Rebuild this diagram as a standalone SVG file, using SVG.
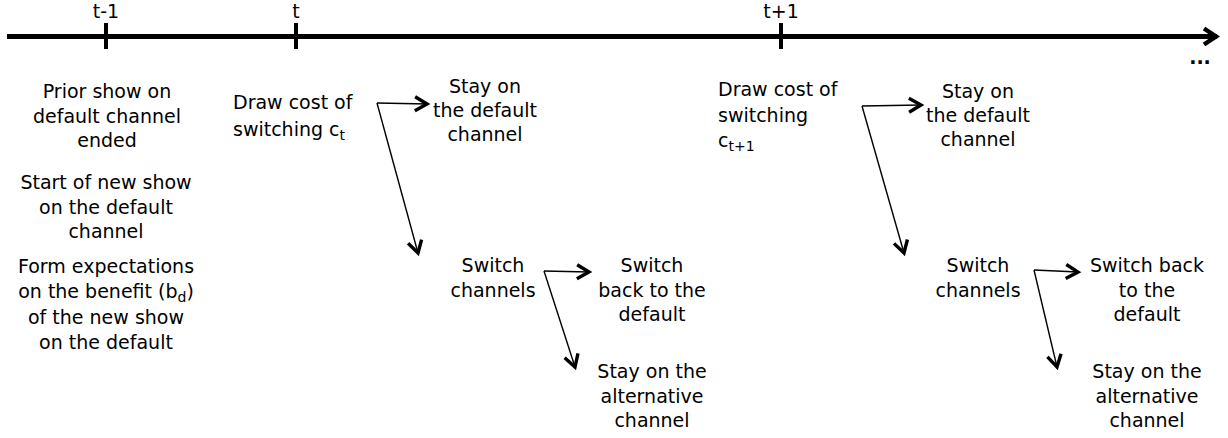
<svg xmlns="http://www.w3.org/2000/svg" width="1228" height="438" viewBox="0 0 1228 438">
<style>
text{font-family:"DejaVu Sans","Verdana",sans-serif;font-size:19px;fill:#000}
.c{text-anchor:middle}
.s{font-size:14px}
.conn{stroke:#000;stroke-width:1.4;fill:none;marker-end:url(#ah)}
.tick{stroke:#000;stroke-width:4}
</style>
<defs>
<marker id="ah" markerUnits="userSpaceOnUse" markerWidth="24" markerHeight="24" viewBox="-16 -12 24 24" refX="0" refY="0" orient="auto" overflow="visible">
<path d="M-12,-7 L0,0 L-12,7" fill="none" stroke="#000" stroke-width="3.4"/>
</marker>
<marker id="big" markerUnits="userSpaceOnUse" markerWidth="30" markerHeight="30" viewBox="-20 -15 30 30" refX="0" refY="0" orient="auto" overflow="visible">
<path d="M-13,-8 L-1,0 L-13,8" fill="none" stroke="#000" stroke-width="4.5"/>
</marker>
</defs>
<g id="timeline">
<line x1="7" y1="36.5" x2="1217" y2="36.5" stroke="#000" stroke-width="5" marker-end="url(#big)"/>
<line class="tick" x1="106" y1="23" x2="106" y2="49"/>
<line class="tick" x1="296" y1="23" x2="296" y2="49"/>
<line class="tick" x1="781" y1="23" x2="781" y2="49"/>
<text class="c" x="106" y="18">t-1</text>
<text class="c" x="296" y="18">t</text>
<text class="c" x="781" y="18">t+1</text>
<text class="c" x="1200" y="64" font-weight="bold">...</text>
</g>
<g id="prior">
<text class="c" x="107" y="98">Prior show on</text>
<text class="c" x="107" y="123">default channel</text>
<text class="c" x="107" y="147">ended</text>
</g>
<g id="start">
<text class="c" x="106" y="189">Start of new show</text>
<text class="c" x="106" y="214">on the default</text>
<text class="c" x="106" y="238">channel</text>
</g>
<g id="form">
<text class="c" x="106" y="273">Form expectations</text>
<text class="c" x="106" y="298">on the benefit (b<tspan class="s" dy="4">d</tspan><tspan dy="-4">)</tspan></text>
<text class="c" x="106" y="324">of the new show</text>
<text class="c" x="106" y="349">on the default</text>
</g>
<g id="draw1">
<text x="233" y="109">Draw cost of</text>
<text x="233" y="136">switching c<tspan class="s" dy="4">t</tspan></text>
</g>
<g id="stay1">
<text class="c" x="485" y="93">Stay on</text>
<text class="c" x="485" y="117">the default</text>
<text class="c" x="485" y="141">channel</text>
</g>
<g id="switch1">
<text class="c" x="493" y="272">Switch</text>
<text class="c" x="493" y="297">channels</text>
</g>
<g id="back1">
<text class="c" x="652" y="272">Switch</text>
<text class="c" x="652" y="297">back to the</text>
<text class="c" x="652" y="321">default</text>
</g>
<g id="alt1">
<text class="c" x="652" y="378">Stay on the</text>
<text class="c" x="652" y="403">alternative</text>
<text class="c" x="652" y="427">channel</text>
</g>
<g id="draw2">
<text x="718" y="96">Draw cost of</text>
<text x="718" y="122">switching</text>
<text x="718" y="147">c<tspan class="s" dy="4">t+1</tspan></text>
</g>
<g id="stay2">
<text class="c" x="978" y="98">Stay on</text>
<text class="c" x="978" y="122">the default</text>
<text class="c" x="978" y="146">channel</text>
</g>
<g id="switch2">
<text class="c" x="978" y="272">Switch</text>
<text class="c" x="978" y="297">channels</text>
</g>
<g id="back2">
<text class="c" x="1147" y="272">Switch back</text>
<text class="c" x="1147" y="297">to the</text>
<text class="c" x="1147" y="321">default</text>
</g>
<g id="alt2">
<text class="c" x="1147" y="378">Stay on the</text>
<text class="c" x="1147" y="403">alternative</text>
<text class="c" x="1147" y="427">channel</text>
</g>
<g id="connectors">
<line class="conn" x1="377" y1="103" x2="427" y2="104"/>
<line class="conn" x1="377" y1="103" x2="418" y2="253"/>
<line class="conn" x1="544" y1="271" x2="589" y2="272"/>
<line class="conn" x1="544" y1="271" x2="575" y2="367"/>
<line class="conn" x1="862" y1="106" x2="921" y2="105"/>
<line class="conn" x1="862" y1="106" x2="904" y2="253"/>
<line class="conn" x1="1034" y1="270" x2="1078" y2="272"/>
<line class="conn" x1="1034" y1="270" x2="1057" y2="367"/>
</g>
</svg>
